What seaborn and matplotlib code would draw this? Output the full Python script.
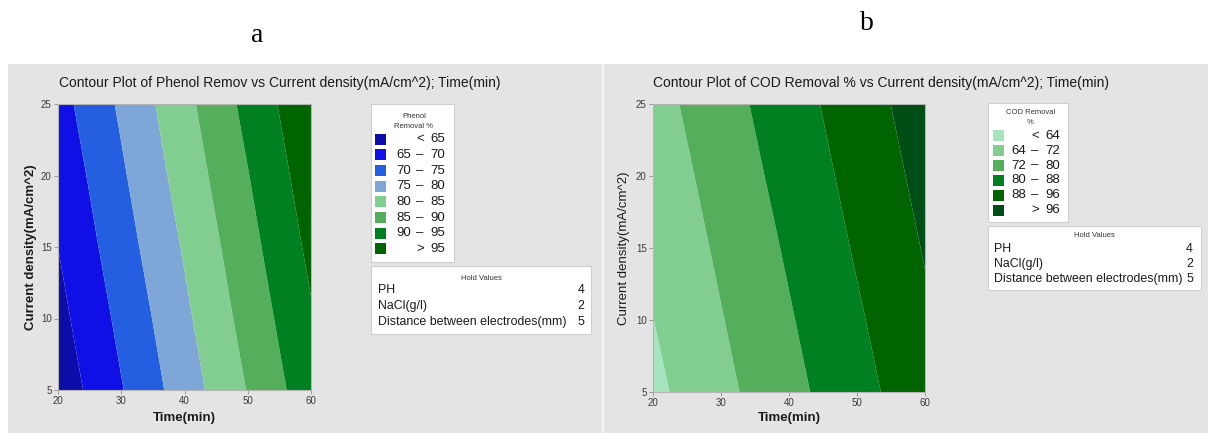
import numpy as np
import matplotlib
matplotlib.use("Agg")
import matplotlib.pyplot as plt
from matplotlib.patches import Rectangle
import seaborn as sns

# Grid of factor settings at which the fitted responses were evaluated
time_min = [20, 30, 40, 50, 60]
current_density = [5, 10, 15, 20, 25]

# Fitted Phenol removal % (rows follow current_density, columns follow time_min)
phenol_removal = [
    [61.9, 69.7, 77.5, 85.2, 93.0],
    [63.5, 71.2, 79.0, 86.8, 94.5],
    [65.0, 72.8, 80.5, 88.3, 96.1],
    [66.5, 74.3, 82.1, 89.8, 97.6],
    [68.1, 75.8, 83.6, 91.4, 99.1],
]

# Fitted COD removal % (same layout)
cod_removal = [
    [62.1, 69.9, 77.6, 85.3, 93.0],
    [63.9, 71.6, 79.3, 87.0, 94.8],
    [65.6, 73.3, 81.0, 88.8, 96.5],
    [67.3, 75.0, 82.8, 90.5, 98.2],
    [69.0, 76.8, 84.5, 92.2, 99.9],
]

phenol_levels = [65, 70, 75, 80, 85, 90, 95]
cod_levels = [64, 72, 80, 88, 96]

phenol_colors = ["#0c0ca8", "#1010e6", "#235fe0", "#7ea7d8",
                 "#82cd90", "#55ae5c", "#008021", "#006400"]
cod_colors = ["#a6e4bf", "#82cd90", "#55ae5c", "#008021", "#006400", "#004d15"]

hold_names = ["PH", "NaCl(g/l)", "Distance between electrodes(mm)"]
hold_values = [4, 2, 5]

sns.set_theme(style="ticks")
plt.rcParams["font.family"] = ["Liberation Sans", "DejaVu Sans"]

W, H = 1208, 433
fig = plt.figure(figsize=(W / 100, H / 100), dpi=100)
fig.patch.set_facecolor("white")


def px_rect(x0, y0, x1, y1):
    return [x0 / W, 1 - y1 / H, (x1 - x0) / W, (y1 - y0) / H]


def pixel_axes(z):
    a = fig.add_axes([0, 0, 1, 1], zorder=z)
    a.set_xlim(0, W)
    a.set_ylim(H, 0)
    a.axis("off")
    a.patch.set_visible(False)
    return a


bg = pixel_axes(0)
bg.add_patch(Rectangle((8, 64), 594, H - 64, fc="#e4e4e4", ec="none"))
bg.add_patch(Rectangle((603, 64), W - 603, H - 64, fc="#e4e4e4", ec="none"))
bg.plot([602.5, 602.5], [64, H], color="#f0f0f0", lw=1)

ov = pixel_axes(3)

TEXT = "#1a1a1a"


def legend_band_labels(levels):
    rows = [("", "<", str(levels[0]))]
    for lo, hi in zip(levels[:-1], levels[1:]):
        rows.append((str(lo), "\u2013", str(hi)))
    rows.append(("", ">", str(levels[-1])))
    return rows


def draw_panel(axbox, z, levels, colors, title, title_xy, xlab_xy, ylab_xy,
               ylab_weight, leg_box, leg_title, leg_title_y, row_y0, row_dy,
               patch_x, left_x, mid_x, right_x, hold_box, hold_title_y,
               hold_row_y, hold_left, hold_right):
    ax = fig.add_axes(px_rect(*axbox), zorder=1)
    zz = np.array(z)
    bounds = [0] + list(levels) + [200]
    ax.contourf(time_min, current_density, zz, levels=bounds, colors=colors,
                antialiased=True)
    ax.set_xlim(20, 60)
    ax.set_ylim(5, 25)
    ax.set_xticks(time_min)
    ax.set_yticks(current_density)
    ax.tick_params(axis="both", labelsize=7, colors="#8c8c8c",
                   labelcolor="#3a3a3a", length=3, width=0.6, pad=1.5,
                   direction="out")
    for s in ax.spines.values():
        s.set_color("#b4b4b4")
        s.set_linewidth(0.8)
    ax.set_xlabel("")
    ax.set_ylabel("")

    ov.text(title_xy[0], title_xy[1], title, ha="center", va="center",
            fontsize=10, color=TEXT)
    ov.text(xlab_xy[0], xlab_xy[1], "Time(min)", ha="center", va="center",
            fontsize=9.5, fontweight="bold", color=TEXT)
    ov.text(ylab_xy[0], ylab_xy[1], "Current density(mA/cm^2)", ha="center",
            va="center", rotation=90, fontsize=9.5, fontweight=ylab_weight,
            color=TEXT)

    # colour key
    x0, y0, x1, y1 = leg_box
    ov.add_patch(Rectangle((x0, y0), x1 - x0, y1 - y0, fc="white",
                           ec="#cfcfcf", lw=0.8))
    cx = (patch_x + right_x) / 2 + 4
    for i, line in enumerate(leg_title):
        ov.text(cx, leg_title_y[i], line, ha="center", va="center",
                fontsize=5.5, color="#333333")
    for i, (lft, mid, rgt) in enumerate(legend_band_labels(levels)):
        y = row_y0 + i * row_dy
        ov.add_patch(Rectangle((patch_x, y - 5.5), 11, 11, fc=colors[i],
                               ec="none"))
        if lft:
            ov.text(left_x, y, lft, ha="left", va="center", fontsize=9.5,
                    color=TEXT)
        ov.text(mid_x, y, mid, ha="center", va="center", fontsize=9.5,
                color=TEXT)
        ov.text(right_x, y, rgt, ha="right", va="center", fontsize=9.5,
                color=TEXT)

    # hold values
    x0, y0, x1, y1 = hold_box
    ov.add_patch(Rectangle((x0, y0), x1 - x0, y1 - y0, fc="white",
                           ec="#cfcfcf", lw=0.8))
    ov.text((x0 + x1) / 2, hold_title_y, "Hold Values", ha="center",
            va="center", fontsize=5.5, color="#333333")
    for name, val, y in zip(hold_names, hold_values, hold_row_y):
        ov.text(hold_left, y, name, ha="left", va="center", fontsize=8.9,
                color=TEXT)
        ov.text(hold_right, y, str(val), ha="right", va="center",
                fontsize=8.9, color=TEXT)
    return ax


draw_panel((58, 104, 311, 390), phenol_removal, phenol_levels, phenol_colors,
           "Contour Plot of Phenol Remov vs Current density(mA/cm^2); Time(min)",
           (280, 83), (184, 418), (31, 247), "bold",
           (371, 104, 454, 262), ["Phenol", "Removal %"], [116, 127],
           139.3, 15.67, 375, 396, 420, 445,
           (371, 266, 591, 334), 278, [289.7, 305.7, 321.7], 377.7, 584)

draw_panel((653, 104, 925, 392), cod_removal, cod_levels, cod_colors,
           "Contour Plot of COD Removal % vs Current density(mA/cm^2); Time(min)",
           (881, 83), (789, 418), (624, 248), "normal",
           (988, 103, 1068, 222), ["COD Removal", "%"], [112.7, 123],
           135.7, 14.93, 992.7, 1011, 1035, 1060,
           (988, 225.7, 1201, 290), 235.3, [249, 264.3, 279], 994, 1193)

ov.text(257, 36, "a", ha="center", va="center", fontsize=20,
        family=["Liberation Serif", "DejaVu Serif"], color="black")
ov.text(867, 24, "b", ha="center", va="center", fontsize=20,
        family=["Liberation Serif", "DejaVu Serif"], color="black")

fig.savefig("out.png", dpi=100, facecolor="white")
